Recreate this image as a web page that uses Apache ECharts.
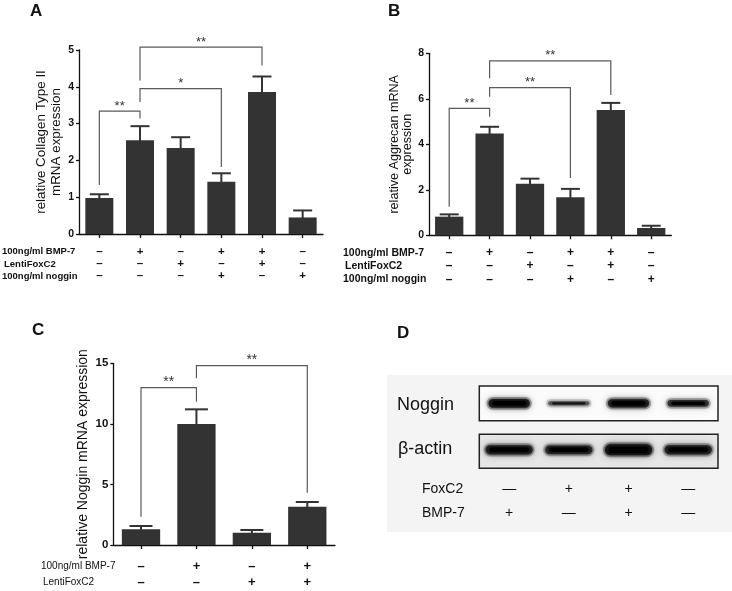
<!DOCTYPE html>
<html><head><meta charset="utf-8">
<script src="https://cdn.jsdelivr.net/npm/echarts@6/dist/echarts.min.js"></script>
<style>html,body{margin:0;padding:0;background:#fff}#c{width:732px;height:591px}</style>
</head><body><div id="c"></div>
<script>
const FONT = '"Liberation Sans", Arial, sans-serif';
const BAR = '#333333';
const INK = '#111111';

// ---- Panel A : Collagen Type II ----
const catsA = ['1','2','3','4','5','6'];
const bmpA = ['–','+','–','+','+','–'];
const foxA = ['–','–','+','–','+','–'];
const nogA = ['–','–','–','+','–','+'];
const meanA = [0.98, 2.55, 2.34, 1.42, 3.86, 0.45];
const errA  = [1.08, 2.93, 2.63, 1.65, 4.28, 0.64];
const bracketsA = [[0,1,3.34,1.33,3.14],[1,3,3.95,3.59,1.82],[1,4,5.08,4.17,4.58]];
const starsA = ['**','*','**'];
const rowNamesA = ['100ng/ml BMP-7','LentiFoxC2','100ng/ml noggin'];

// ---- Panel B : Aggrecan ----
const catsB = ['1','2','3','4','5','6'];
const bmpB = ['–','+','–','+','+','–'];
const foxB = ['–','–','+','–','+','–'];
const nogB = ['–','–','–','+','–','+'];
const meanB = [0.82, 4.48, 2.27, 1.67, 5.51, 0.32];
const errB  = [0.92, 4.77, 2.49, 2.04, 5.82, 0.42];
const bracketsB = [[0,1,5.58,1.26,5.21],[1,3,6.49,6.09,2.52],[1,4,7.67,6.9,6.17]];
const starsB = ['**','**','**'];
const rowNamesB = ['100ng/ml BMP-7','LentiFoxC2','100ng/ml noggin'];

// ---- Panel C : Noggin mRNA ----
const catsC = ['1','2','3','4'];
const bmpC = ['–','+','–','+'];
const foxC = ['–','–','+','+'];
const meanC = [1.30, 9.99, 1.02, 3.16];
const errC  = [1.57, 11.2, 1.24, 3.55];
const bracketsC = [[0,1,13.0,2.34,11.83],[1,3,14.81,13.76,4.32]];
const starsC = ['**','**'];
const rowNamesC = ['100ng/ml BMP-7','LentiFoxC2'];

// ---- Panel D : Western blot ----
const lanesD = ['1','2','3','4'];
const foxD = ['—','+','+','—'];
const bmpD = ['+','—','+','—'];
const nogginBand = [0.95, 0.45, 0.9, 0.72];
const actinBand  = [0.85, 0.8, 1.0, 0.85];

function errRender(capW){
  return function(params, api){
    const i = api.value(0);
    const p1 = api.coord([i, api.value(1)]);
    const p2 = api.coord([i, api.value(2)]);
    return {type:'group', children:[
      {type:'line', shape:{x1:p1[0], y1:p1[1]+1, x2:p2[0], y2:p2[1]}, style:{stroke:BAR, lineWidth:2}},
      {type:'line', shape:{x1:p2[0]-capW/2, y1:p2[1], x2:p2[0]+capW/2, y2:p2[1]}, style:{stroke:BAR, lineWidth:2}}
    ]};
  };
}
function brRender(labels, fs){
  return function(params, api){
    const a = api.value(0), b = api.value(1);
    const tl = api.coord([a, api.value(2)]);
    const bl = api.coord([a, api.value(3)]);
    const tr = api.coord([b, api.value(2)]);
    const br = api.coord([b, api.value(4)]);
    return {type:'group', children:[
      {type:'polyline', shape:{points:[[bl[0],bl[1]],[tl[0],tl[1]],[tr[0],tr[1]],[br[0],br[1]]]},
        style:{stroke:'#5a5a5a', lineWidth:1.2, fill:null}},
      {type:'text', x:(tl[0]+tr[0])/2, y:tl[1]-5,
        style:{text:labels[params.dataIndex], fontSize:fs, fontFamily:FONT, align:'center', verticalAlign:'middle', fill:'#333'}}
    ]};
  };
}
function bandRender(kind){
  return function(params, api){
    const lane = api.value(0), inten = api.value(1);
    const c = api.coord([lane, 0.5]);
    const w = api.size([1,0])[0];
    const h = api.size([0,1])[1];
    let bw, bh, cy = c[1];
    if (kind === 'noggin') { bw = w*0.76; bh = h*0.27*inten; }
    else { bw = w*0.86; bh = h*0.32*inten; cy = c[1]-1.5; }
    const a = 0.3 + 0.7*inten;
    return {type:'group', children:[
      {type:'rect', shape:{x:c[0]-bw/2, y:cy-bh/2-2, width:bw, height:bh+4, r:(bh+4)/2},
        style:{fill:'rgba(60,60,60,'+(a*0.35)+')', shadowBlur:8, shadowColor:'rgba(0,0,0,'+(a*0.5)+')'}},
      {type:'rect', shape:{x:c[0]-bw/2+2, y:cy-bh/2, width:bw-4, height:Math.max(bh,1.5), r:Math.max(bh,1.5)/2},
        style:{fill:'rgba(15,15,15,'+(a*0.85)+')', shadowBlur:4, shadowColor:'rgba(0,0,0,'+a+')'}},
      {type:'rect', shape:{x:c[0]-bw/2+6, y:cy-bh/4, width:bw-12, height:Math.max(bh/2,1), r:Math.max(bh/2,1)/2},
        style:{fill:'rgba(0,0,0,'+a+')', shadowBlur:2, shadowColor:'rgba(0,0,0,'+a+')'}}
    ]};
  };
}

function yAx(gi, max, interval, name, fs, lh, gap, labelFs){
  return {type:'value', gridIndex:gi, min:0, max:max, interval:interval,
    name:name, nameLocation:'middle', nameGap:gap,
    nameTextStyle:{fontSize:fs, lineHeight:lh, fontFamily:FONT, color:INK},
    axisLine:{show:true, lineStyle:{color:INK, width:1.3}},
    axisTick:{show:true, length:3, lineStyle:{color:INK, width:1.3}},
    axisLabel:{margin:5, fontSize:labelFs, fontWeight:'bold', fontFamily:FONT, color:INK},
    splitLine:{show:false}};
}
function xAx(gi, cats, rows, fs, lh, margin, bold){
  return {type:'category', gridIndex:gi, data:cats,
    axisLine:{show:true, onZero:false, lineStyle:{color:INK, width:1.3}},
    axisTick:{show:true, alignWithLabel:true, length:4, lineStyle:{color:INK, width:1.3}},
    axisLabel:{interval:0, margin:margin, fontSize:fs, lineHeight:lh, fontWeight:bold?'bold':'normal', fontFamily:FONT, color:INK,
      formatter:function(v, i){ return rows.map(r => r[i]).join('\n'); }},
    splitLine:{show:false}};
}

const graphics = [];
function txt(x, y, t, fs, weight, align){
  graphics.push({type:'text', x:x, y:y, z:10,
    style:{text:t, fontSize:fs, fontWeight:weight||'normal', fontFamily:FONT, fill:INK, align:align||'left', verticalAlign:'middle'}});
}
// panel D background
graphics.push({type:'rect', z:-5, shape:{x:387, y:375, width:345, height:157}, style:{fill:'#f4f4f4'}});
// panel letters
txt(30, 11, 'A', 17, 'bold');
txt(388, 11, 'B', 17, 'bold');
txt(32, 330, 'C', 17, 'bold');
txt(397, 333, 'D', 17, 'bold');
// row names
rowNamesA.forEach((t, i) => txt(i===1?4:2, 251.7 + i*12.3, t, 9.5, 'bold'));
rowNamesB.forEach((t, i) => txt(i===1?345:343, 252.7 + i*13.3, t, 10.5, 'bold'));
rowNamesC.forEach((t, i) => txt(i===1?43:41, 566.7 + i*16, t, 10, 'normal'));
txt(397, 405, 'Noggin', 18);
txt(398, 449, 'β-actin', 18);
txt(422, 489, 'FoxC2', 14);
txt(422, 513, 'BMP-7', 14);

const option = {
  animation:false,
  backgroundColor:'#ffffff',
  textStyle:{fontFamily:FONT},
  graphic: graphics,
  grid:[
    {left:79, top:50, width:244, height:184},
    {left:429, top:53.3, width:242.4, height:182},
    {left:113.3, top:363.3, width:221.7, height:181.7},
    {left:479.3, top:386, width:238.7, height:34.7, show:true, borderColor:'#222', borderWidth:1.5, backgroundColor:'#fbfbfb'},
    {left:479.3, top:434.3, width:238.7, height:34, show:true, borderColor:'#222', borderWidth:1.5, backgroundColor:'#e6e6e6'}
  ],
  xAxis:[
    xAx(0, catsA, [bmpA, foxA, nogA], 11.5, 12.3, 11.5, true),
    xAx(1, catsB, [bmpB, foxB, nogB], 12, 13.3, 10.7, true),
    xAx(2, catsC, [bmpC, foxC], 13, 16, 13.5, true),
    {type:'category', gridIndex:3, data:lanesD, show:false},
    {type:'category', gridIndex:4, data:lanesD,
      axisLine:{show:false}, axisTick:{show:false},
      axisLabel:{interval:0, margin:9, fontSize:14, lineHeight:24, fontFamily:FONT, color:INK,
        formatter:function(v, i){ return foxD[i] + '\n' + bmpD[i]; }}}
  ],
  yAxis:[
    yAx(0, 5, 1, 'relative Collagen Type II\nmRNA expression', 13.4, 15, 13, 10.5),
    yAx(1, 8, 2, 'relative Aggrecan mRNA\nexpression', 12.6, 13, 14, 10.5),
    yAx(2, 15, 5, 'relative Noggin mRNA expression', 14, 16, 20, 11.5),
    {type:'value', gridIndex:3, min:0, max:1, show:false},
    {type:'value', gridIndex:4, min:0, max:1, show:false}
  ],
  series:[
    {type:'bar', xAxisIndex:0, yAxisIndex:0, data:meanA, barWidth:28, itemStyle:{color:BAR}},
    {type:'custom', xAxisIndex:0, yAxisIndex:0, renderItem:errRender(19), data:meanA.map((m,i)=>[i,m,errA[i]]), z:3, clip:false},
    {type:'custom', xAxisIndex:0, yAxisIndex:0, renderItem:brRender(starsA, 13), data:bracketsA, z:4, clip:false},

    {type:'bar', xAxisIndex:1, yAxisIndex:1, data:meanB, barWidth:28.3, itemStyle:{color:BAR}},
    {type:'custom', xAxisIndex:1, yAxisIndex:1, renderItem:errRender(19), data:meanB.map((m,i)=>[i,m,errB[i]]), z:3, clip:false},
    {type:'custom', xAxisIndex:1, yAxisIndex:1, renderItem:brRender(starsB, 13), data:bracketsB, z:4, clip:false},

    {type:'bar', xAxisIndex:2, yAxisIndex:2, data:meanC, barWidth:38.3, itemStyle:{color:BAR}},
    {type:'custom', xAxisIndex:2, yAxisIndex:2, renderItem:errRender(23), data:meanC.map((m,i)=>[i,m,errC[i]]), z:3, clip:false},
    {type:'custom', xAxisIndex:2, yAxisIndex:2, renderItem:brRender(starsC, 14), data:bracketsC, z:4, clip:false},

    {type:'custom', xAxisIndex:3, yAxisIndex:3, renderItem:bandRender('noggin'), data:nogginBand.map((v,i)=>[i,v]), clip:true},
    {type:'custom', xAxisIndex:4, yAxisIndex:4, renderItem:bandRender('actin'), data:actinBand.map((v,i)=>[i,v]), clip:true}
  ]
};
const chart = echarts.init(document.getElementById('c'), null, {renderer:'canvas'});
chart.setOption(option);
</script></body></html>
